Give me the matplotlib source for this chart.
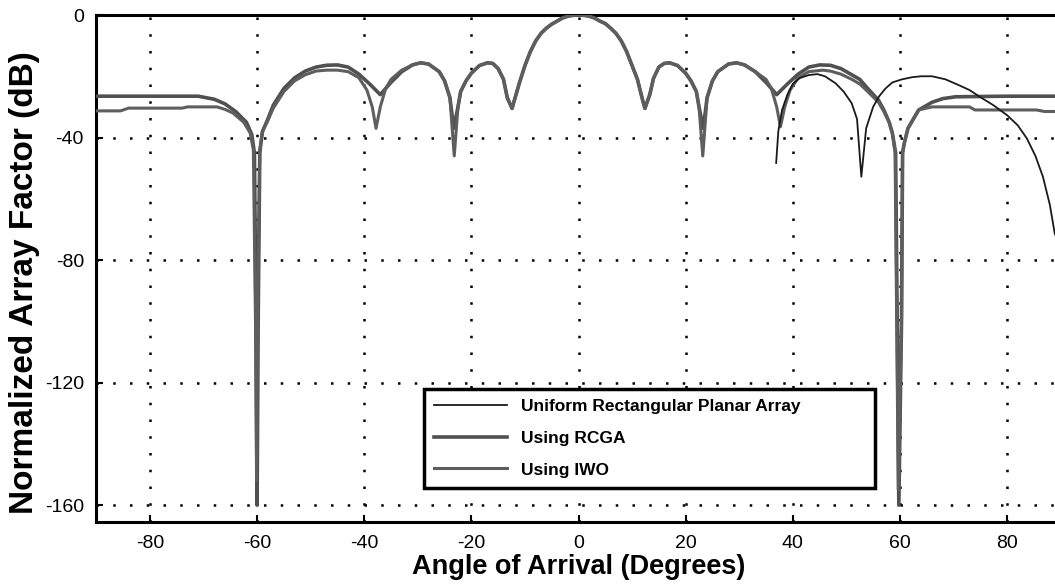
import numpy as np
from matplotlib import pyplot as plt

# angles (deg) and normalized array factor (dB)
ang_rcga = [-90, -80, -71, -68, -66, -64, -62, -61, -60.5, -60.2, -60, -59.8, -59.5, -59, -58, -57, -55, -53, -51, -49, -47, -45,
            -43, -41, -39, -37, -36, -35, -33, -31, -29.5, -28, -26, -25, -24, -23.3, -22.5, -22, -21, -20, -18.5, -17, -16, -15,
            -14, -13.3, -12.4, -12, -11, -10, -9, -8, -7, -6, -5, -4, -3, -2, -1, 0,
            1, 2, 3, 4, 5, 6, 7, 8, 9, 10, 11, 12, 12.4, 13.3, 14, 15, 16, 17, 18.5, 20, 21, 22, 22.5, 23.3, 24, 25, 26, 28, 29.5,
            31, 33, 35, 36, 37, 39, 41, 43, 45, 47, 49, 51, 52.5, 54, 56, 57, 58, 58.6, 59.2, 59.5, 59.8, 60.3, 60.5, 60.8,
            61.5, 62.5, 63.5, 65, 66, 68, 70.4, 80, 90]
db_rcga = [-26.5, -26.5, -26.5, -27.5, -29, -31.5, -35, -39, -45, -100, -160, -100, -45, -38, -34, -29.5, -24, -20.5, -18.3, -17, -16.4, -16.3,
           -17, -19.3, -22.5, -26, -24, -22, -18.5, -16.3, -15.6, -16, -18.5, -21.5, -27, -37, -30, -25, -21.5, -19, -16.5, -15.6, -15.8, -17.5,
           -21, -27, -30.5, -28, -22, -16.5, -12, -8.5, -6, -4.3, -3, -2, -1, -0.4, -0.1, 0,
           -0.1, -0.4, -1, -2, -2.8, -4.3, -6, -8.5, -12, -16.5, -21, -28, -30.5, -26, -20.7, -17, -15.8, -15.6, -16.5, -19, -21.5, -25, -30, -37, -27, -21.5, -18.5, -16, -15.6,
           -16.3, -18.5, -22, -24, -26, -22.5, -19.3, -17, -16.3, -16.4, -17.5, -19.5, -21, -24, -27.8, -31, -35, -38.6, -45, -100, -160, -100, -45, -42,
           -37, -34, -31, -29.5, -28.5, -27.3, -26.7, -26.5, -26.5]

ang_iwo = [-90, -85.5, -84, -74, -73, -67.5, -66, -64.5, -62.5, -61.3, -60.7, -60.3, -60.1, -59.9, -59.5, -59, -58, -57, -55, -53, -51, -49, -47, -45,
           -43, -41, -39.5, -38.5, -37.8, -37, -36, -35, -33, -31, -29.5, -28, -26, -25, -24, -23.2, -22.5, -22, -21, -20, -18.5, -17, -16, -15,
           -14, -13.3, -12.4, -12, -11, -10, -9, -8, -7, -6, -5, -4, -3, -2, -1, 0,
           1, 2, 3, 4, 5, 6, 7, 8, 9, 10, 11, 12, 12.4, 13.3, 14, 15, 16, 17, 18.5, 20, 21, 22, 22.5, 23.2, 24, 25, 26, 28, 29.5,
           31, 33, 35, 36, 37, 37.7, 38.5, 39.5, 41, 43, 45.6, 47, 49, 51, 52.5, 54, 56, 57, 58, 58.6, 59.1, 59.4, 59.7, 60.3, 60.5, 60.8,
           61.5, 62.5, 63.5, 66, 73, 74, 85.5, 87, 90]
db_iwo = [-31.3, -31.3, -30.4, -30.4, -30, -30, -30.8, -32, -35, -38.5, -44, -100, -152, -100, -44, -38, -34.5, -30.5, -25, -21.5, -19.5, -18.3, -18, -18,
          -18.5, -20.5, -24.5, -30, -37, -30, -24, -21, -18, -16.3, -15.6, -16, -18.5, -21.5, -27, -46, -30, -25, -21.5, -19, -16.5, -15.6, -15.8, -17.5,
          -21, -27, -30.5, -28, -22, -16.5, -12, -8.5, -6, -4.3, -3, -2, -1, -0.4, -0.1, 0,
          -0.1, -0.4, -1, -2, -2.8, -4.3, -6, -8.5, -12, -16.5, -21, -28, -30.5, -26, -20.7, -17, -15.8, -15.6, -16.5, -19, -21.5, -25, -30, -46, -27, -21.5, -18.5, -16, -15.6,
          -16.3, -18.5, -21, -24, -30, -36.5, -30, -24.5, -20.5, -18.5, -18, -18.3, -19.3, -21, -22.5, -25, -28.5, -31.5, -35, -38.6, -45, -100, -155, -100, -45, -42,
          -37, -34, -31, -30, -30, -31, -31, -31.5, -31.5]

ang_uni = [36.9, 37.3, 38, 39, 40, 41.3, 43, 44.6, 46, 48, 49.5, 51, 52, 52.8, 53.7, 55, 56.1, 57.3, 58.6, 60.4, 62.3, 64, 66, 68.5, 71,
           73, 74.9, 77.5, 80, 82, 83.7, 85.3, 86.7, 88, 88.9, 90]
db_uni = [-48.3, -38, -31, -26, -22.5, -20.6, -19.6, -19.3, -20, -22.3, -25, -28.8, -34, -52.8, -37, -30, -26.6, -24, -22, -21, -20.3, -20, -20, -21, -22.9,
          -24.5, -26.7, -29.5, -32.7, -36, -40.3, -46, -52.8, -62, -71.3, -76]

xticks = [-80, -60, -40, -20, 0, 20, 40, 60, 80]
yticks = [0, -40, -80, -120, -160]

plt.rcParams['font.family'] = ['Liberation Sans', 'DejaVu Sans']
plt.rcParams['axes.unicode_minus'] = False

fig = plt.figure(figsize=(10.55, 5.84), dpi=100)
ax = fig.add_axes([96.4/1055, 1 - 522/584, 964.2/1055, 507/584])

ax.plot(ang_rcga, db_rcga, color='#505050', lw=2.6, label='Using RCGA', zorder=3)
ax.plot(ang_iwo, db_iwo, color='#5e5e5e', lw=2.2, label='Using IWO', zorder=3)
ax.plot(ang_uni, db_uni, color='#1a1a1a', lw=1.3, label='Uniform Rectangular Planar Array', zorder=4)

ax.set_xlim(-90, 90)
ax.set_ylim(-165.5, 0)
ax.set_xticks(xticks)
ax.set_yticks(yticks)
ax.grid(True, color='black', lw=1.8, linestyle=(0, (1, 5.7)))
ax.tick_params(direction='in', length=5, width=1.5, labelsize=14, pad=9)
for s in ax.spines.values():
	s.set_linewidth(2.2)

ax.set_xlabel('Angle of Arrival (Degrees)', fontsize=19.5, fontweight='bold', labelpad=2)
fig.text(25/1055, 1 - 283/584, 'Normalized Array Factor (dB)', rotation=90, fontsize=24,
	fontweight='bold', ha='center', va='center')

h, l = ax.get_legend_handles_labels()
order = [2, 0, 1]
leg = ax.legend([h[i] for i in order], [l[i] for i in order], loc='upper left',
	bbox_to_anchor=(415/1055, 1 - 478/584, 469/1055, 98/584), bbox_transform=fig.transFigure,
	mode='expand', fancybox=False, framealpha=1, edgecolor='black', handlelength=4.2,
	prop={'weight': 'bold', 'size': 12.5}, labelspacing=0.95, borderpad=0.6)
leg.get_frame().set_linewidth(2.5)

plt.savefig("out.png")
